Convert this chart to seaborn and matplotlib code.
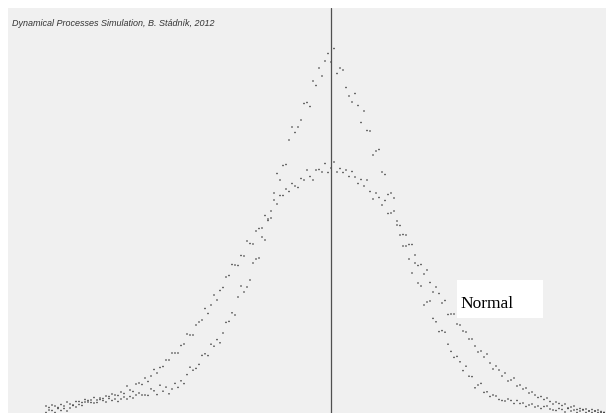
import numpy as np
import pandas as pd
import matplotlib
matplotlib.use("Agg")
import matplotlib.pyplot as plt
import seaborn as sns
from matplotlib.patches import Rectangle

sns.set_style("white")
plt.rcParams["font.family"] = ["Liberation Sans", "DejaVu Sans"]

# histogram bins (centre bin = 0) and the two simulated count series
bins = np.arange(-95, 92)

normal_counts = [
    7, 5.5, 8, 7, 5.5, 8.5, 7, 11, 9, 8,
    11.5, 11.5, 10.5, 13.5, 11, 13, 15.5, 13, 15, 14.5,
    17, 16.5, 19, 18, 17.5, 21, 19.5, 27, 23, 21.5,
    29, 30, 28.5, 35, 31.5, 37, 43.5, 40, 45.5, 46.5,
    53, 53, 60, 60, 60, 67.5, 69, 79, 78, 78,
    88, 91, 93, 104.5, 99.5, 108, 118, 113, 122.5, 125.5,
    136, 137.5, 148.5, 148, 147.5, 157.5, 157, 172, 169.5, 169,
    182, 184.5, 185, 197.5, 192.5, 202, 213, 209, 217.5, 217.5,
    224, 221.5, 229.5, 227, 225.5, 234.5, 233, 243, 236.5, 233,
    243, 243.5, 241, 249.5, 240.5, 245, 251, 241, 244.5, 240.5,
    243, 236.5, 241.5, 236, 229.5, 233.5, 227, 233, 221.5, 214,
    220, 215.5, 208, 212.5, 199.5, 200, 202, 188, 187.5, 178.5,
    178, 168.5, 168.5, 158, 147.5, 148.5, 139, 143, 130.5, 121,
    126, 119.5, 110, 112.5, 98.5, 99, 99, 89, 88, 82,
    81, 74, 74, 67, 61, 62, 56, 59, 50, 44,
    47, 43, 37, 40, 32, 33, 35, 27, 28, 24,
    25, 20, 21, 18, 15.5, 16.5, 13.5, 15, 11.5, 9,
    11, 9.5, 7.5, 9, 5, 6, 7, 3.5, 4.5, 3,
    4, 2, 3.5, 2, 0.5, 1.5, 0.5,
]

peaked_counts = [
    0.5, 3, 2.5, 0.5, 4.5, 2.5, 4.5, 2, 5, 7.5,
    6, 8.5, 7.5, 11, 12.5, 10.5, 10, 10.5, 13.5, 12.5,
    11, 14.5, 12.5, 14, 11.5, 14, 16, 14, 16.5, 15,
    18, 20, 18, 18, 17.6, 24.1, 22.2, 18.4, 27.8, 21.8,
    25.9, 19.2, 24, 29.6, 25.6, 32.2, 29.4, 38.4, 45.8, 42.8,
    44.6, 48.6, 57.6, 59.2, 57.4, 68.8, 66.8, 73.4, 70.2, 80,
    90.6, 91.6, 100.2, 98, 116, 127, 121, 126, 133, 150,
    154, 155, 176, 173, 194, 195, 220, 239.5, 233, 247.5,
    248.5, 273, 286, 280.5, 286, 293, 309.5, 310.5, 306.5, 332,
    327.5, 345, 337, 352, 359.5, 351, 364.5, 339.5, 345, 343,
    325.5, 317, 311, 319.5, 307.5, 290.5, 302, 282.5, 282, 258,
    262, 263.5, 241, 238.5, 218.5, 220, 215, 192, 178, 167,
    167, 154, 140, 150, 130, 127, 108, 111, 112, 94.6,
    91.2, 81.4, 82.4, 80.8, 68.8, 61.6, 55.6, 56.6, 51.2, 42.4,
    46.8, 36.8, 36.4, 25.2, 28, 29.6, 20.6, 21.2, 16.5, 18,
    17, 13.5, 12.5, 12, 14, 12.5, 9.5, 12.5, 9.5, 10,
    6.5, 8, 9, 6, 7, 4.5, 6.5, 7, 4, 3,
    2.5, 4.5, 3.5, 1, 4.5, 2, 3, 0.5, 2, 3.5,
    0.5, 2, 0.5, 2, 3, 0.5, 0.5,
]

credit = "Dynamical Processes Simulation, B. Stádník, 2012"
mode_label = "Normal"

df = pd.DataFrame({
    "bin": np.concatenate([bins, bins]),
    "count": normal_counts + peaked_counts,
    "series": ["normal"] * len(normal_counts) + ["peaked"] * len(peaked_counts),
})

fig = plt.figure(figsize=(6.07, 4.14), dpi=100)
fig.patch.set_facecolor("white")
ax = fig.add_axes([8 / 607, 0, 598 / 607, 405 / 414])
ax.set_facecolor("#f0f0f0")

sns.scatterplot(
    data=df, x="bin", y="count", hue="series",
    palette={"normal": "#3a3a3a", "peaked": "#3a3a3a"},
    marker="o", s=1.3, linewidth=0, legend=False, ax=ax, clip_on=False,
)

ax.axvline(0, color="#505050", lw=0.9, zorder=1)

ax.set_xlim(-323 / 3, 275 / 3)
ax.set_ylim(0, 405)
for sp in ax.spines.values():
    sp.set_visible(False)
ax.set_xticks([])
ax.set_yticks([])
ax.set_xlabel("")
ax.set_ylabel("")

ax.text(4 / 598, 0.963, credit, transform=ax.transAxes, fontsize=6.5,
        style="italic", color="#333333", ha="left", va="center")

ax.add_patch(Rectangle((0.7508, 0.2346), 0.1438, 0.0938, transform=ax.transAxes,
                       facecolor="white", edgecolor="none", zorder=3))
ax.text(0.7559, 0.2617, mode_label, transform=ax.transAxes,
        family=["Liberation Serif", "DejaVu Serif"], fontsize=12.5,
        color="black", ha="left", va="baseline", zorder=4)

fig.savefig("out.png", dpi=100)
